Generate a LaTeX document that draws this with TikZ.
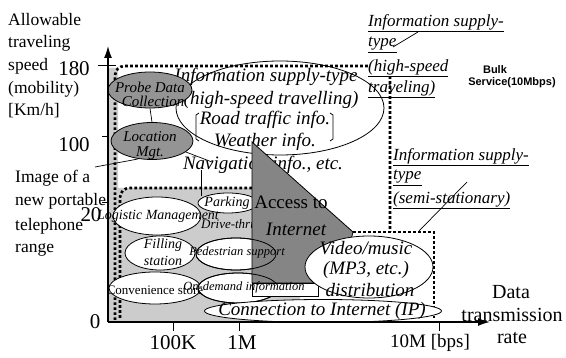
\documentclass[tikz,border=0pt]{standalone}
\usepackage{fontspec}
\setmainfont{Liberation Serif}
\newfontfamily\bulkfont{Liberation Sans}
\usetikzlibrary{arrows.meta,shapes.geometric}
\definecolor{lightfill}{gray}{0.80}
\definecolor{darkfill}{gray}{0.58}
\definecolor{trifill}{gray}{0.52}
\begin{document}
\begin{tikzpicture}[x=1pt,y=-1pt,
  every node/.style={inner sep=0pt},
  lab/.style={font=\fontsize{17.5}{20}\selectfont},
  axnum/.style={font=\fontsize{21}{24}\selectfont},
  bigtxt/.style={font=\fontsize{19}{22}\selectfont\itshape},
  midtxt/.style={font=\fontsize{14}{16}\selectfont\itshape},
  smalltxt/.style={font=\fontsize{12.5}{14}\selectfont\itshape},
  ultxt/.style={font=\fontsize{17}{20}\selectfont\itshape, anchor=west},
  dotl/.style={line width=2.6pt, dash pattern=on 2.6pt off 2.4pt},
  wel/.style={ellipse, draw, fill=white, line width=0.8pt},
  del/.style={ellipse, draw, fill=darkfill, line width=0.8pt},
  thinl/.style={line width=0.7pt},
  axis/.style={line width=1.4pt, -{Latex[length=12pt,width=8pt]}}
]
\useasboundingbox (0,0) rectangle (566,358);

% light shaded range
\fill[lightfill] (109,68) -- (118,68) -- (118,188) -- (300,188) -- (300,322) -- (109,322) -- cycle;

% big ellipse (high-speed travelling)
\node[wel, minimum width=208pt, minimum height=94pt] (bigel) at (280,108) {};
\node[bigtxt] (t1) at (266,77) {Information supply-type};
\node[bigtxt] (t2) at (271,100) {(high-speed travelling)};
\node[bigtxt] (t3) at (265,120) {Road traffic info.};
\node[bigtxt] (t4) at (265,142) {Weather info.};
\node[bigtxt] (t5) at (263,165) {Navigation info., etc.};
\draw[thinl] (199,113) -- (196,115) -- (196,139) -- (199,141);
\draw[thinl] (330,113) -- (333,115) -- (333,139) -- (330,141);

% dotted regions
\draw[dotl] (115,320) -- (115,76) .. controls (115,70) and (119,66) .. (125,66) -- (390,66) -- (390,232);
\draw[dotl] (252,188) -- (130,188) .. controls (124,188) and (120,192) .. (120,198) -- (120,320);
\draw[dotl] (353,232) -- (434,232) -- (434,318);

% connector end points
\coordinate (imgstart) at (95,167);
\coordinate (imgend) at (138,159);
\coordinate (navend) at (212,162);
\coordinate (navdrop) at (201,170);
\coordinate (parktop) at (201,196);

% semi-stationary ellipses (before triangle)
\node[wel, minimum width=60pt, minimum height=20pt] (park) at (228,203) {};
\node[midtxt] (parktxt) at (227,203) {Parking};
\node[font=\fontsize{13}{15}\selectfont\itshape] (drive) at (229,224) {Drive-thru};
\node[wel, minimum width=88pt, minimum height=38pt] (logi) at (157,216) {};
\node[wel, minimum width=70pt, minimum height=34pt] (fill) at (160,253) {};
\node[wel, minimum width=92pt, minimum height=32pt] (conv) at (155,288) {};
\node[wel, minimum width=80pt, minimum height=32pt] (ped) at (236,254) {};
\node[wel, minimum width=80pt, minimum height=30pt] (ond) at (238,288) {};

% access to internet triangle
\filldraw[fill=trifill, line width=0.8pt] (252,142) -- (353,232) -- (340,283) -- (252,283) -- cycle;
\draw[line width=0.8pt] (ped.center) ellipse (40pt and 16pt);
\draw[line width=0.8pt] (ond.center) ellipse (40pt and 15pt);
\draw[line width=0.8pt, fill=white] (252,283) rectangle (318,296);

\node[wel, minimum width=128pt, minimum height=62pt] (video) at (369,267) {};
\node[wel, minimum width=237pt, minimum height=23pt] (conn) at (323,311) {};

% texts inside ellipses
\node[midtxt] (logitxt) at (158,216) {Logistic Management};
\node[midtxt] (filltxt1) at (163,245) {Filling};
\node[midtxt] (filltxt2) at (163,261) {station};
\node[font=\fontsize{13}{15}\selectfont] (convtxt) at (155,290) {Convenience store};
\node[smalltxt] (pedtxt) at (237,252) {Pedestrian support};
\node[smalltxt] (ondtxt) at (244,287) {On-demand information};
\node[bigtxt] (conntxt) at (322,311) {Connection to Internet (IP)};
\node[bigtxt] (vid1) at (366,248) {Video/music};
\node[bigtxt] (vid2) at (366,270) {(MP3, etc.)};
\node[bigtxt] (vid3) at (370,290) {distribution};
\node[font=\fontsize{19}{22}\selectfont] (acc1) at (291,202) {Access to};
\node[bigtxt] (acc2) at (296,229) {Internet};

% mobile ellipses
\draw[thinl] (imgstart) -- (imgend);
\draw[thinl] (navdrop) -- (parktop);
\node[del, minimum width=84pt, minimum height=36pt] (probe) at (150,90) {};
\node[del, minimum width=82pt, minimum height=37pt] (loc) at (152,141) {};
\draw[thinl] (probe.south) -- (loc.north);
\draw[thinl] (loc.-18) -- (navend);
\node[font=\fontsize{15}{16}\selectfont\itshape] (probetxt1) at (150,87) {Probe Data};
\node[font=\fontsize{15}{16}\selectfont\itshape] (probetxt2) at (153,101) {Collection};
\node[font=\fontsize{15}{16}\selectfont\itshape] (loctxt1) at (150,137) {Location};
\node[font=\fontsize{15}{16}\selectfont\itshape] (loctxt2) at (150,153) {Mgt.};

% axes
\coordinate (O) at (108,322);
\coordinate (ytop) at (108,46);
\coordinate (xend) at (490,322);
\draw[axis] (O) -- (ytop);
\draw[axis] (O) -- (xend);
\draw[line width=1pt] (98,66) -- (116,66);
\draw[line width=1pt] (102,137) -- (108,137);
\draw[line width=1pt] (102,203) -- (108,203);
\draw[line width=1pt] (173,322) -- (173,331);
\draw[line width=1pt] (239,322) -- (239,331);
\draw[line width=1pt] (439,322) -- (439,331);

% axis labels
\node[axnum] (n180) at (74,69) {180};
\node[axnum] (n100) at (74,145) {100};
\node[axnum] (n20) at (91,215) {20};
\node[axnum] (n0) at (95,322) {0};
\node[axnum] (x100k) at (173,343) {100K};
\node[axnum] (x1m) at (242,343) {1M};
\node[font=\fontsize{19}{22}\selectfont] (x10m) at (430,343) {10M [bps]};
\node[font=\fontsize{20}{23}\selectfont] (dt1) at (511,292) {Data};
\node[font=\fontsize{20}{23}\selectfont] (dt2) at (512,315) {transmission};
\node[font=\fontsize{20}{23}\selectfont] (dt3) at (512,338) {rate};

% left labels
\node[lab, anchor=west] (al1) at (8,20) {Allowable};
\node[lab, anchor=west] (al2) at (8,43) {traveling};
\node[lab, anchor=west] (al3) at (8,66) {speed};
\node[lab, anchor=west] (al4) at (8,89) {(mobility)};
\node[lab, anchor=west] (al5) at (8,111) {[Km/h]};
\node[lab, anchor=west] (im1) at (15,178) {Image of a};
\node[lab, anchor=west] (im2) at (15,201) {new portable};
\node[lab, anchor=west] (im3) at (15,226) {telephone};
\node[lab, anchor=west] (im4) at (15,250) {range};

% right labels
\node[ultxt] (hs1) at (368,23) {\underline{Information supply-}};
\node[ultxt] (hs2) at (368,45) {\underline{type}};
\node[ultxt, fill=white] (hs3) at (368,68) {\underline{(high-speed}};
\node[ultxt] (hs4) at (368,89) {\underline{traveling)}};
\node[ultxt] (ss1) at (393,157) {\underline{Information supply-}};
\node[ultxt] (ss2) at (393,178) {\underline{type}};
\node[ultxt] (ss3) at (393,200) {\underline{(semi-stationary)}};
\coordinate (hsA) at (393,47);
\coordinate (hsB) at (418,32);
\coordinate (ssA) at (419,231);
\coordinate (ssB) at (467,182);
\draw[thinl] (hsA) -- (hsB);
\draw[thinl] (ssA) -- (ssB);

\node[font=\bulkfont\bfseries\fontsize{11}{13}\selectfont] (bulk1) at (495,70) {Bulk};
\node[font=\bulkfont\bfseries\fontsize{11}{13}\selectfont] (bulk2) at (512,83) {Service(10Mbps)};
\end{tikzpicture}
\end{document}
